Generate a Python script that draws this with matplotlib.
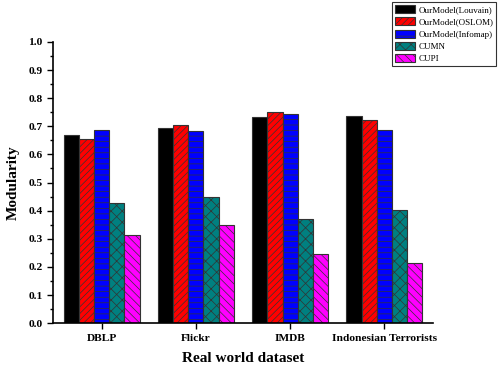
import matplotlib.pyplot as plt
import numpy as np
from matplotlib.ticker import MultipleLocator

plt.rcParams['font.family'] = ['Liberation Serif', 'DejaVu Serif']
plt.rcParams['hatch.linewidth'] = 0.5

datasets = ['DBLP', 'Flickr', 'IMDB', 'Indonesian Terrorists']
methods = ['OurModel(Louvain)', 'OurModel(OSLOM)', 'OurModel(Infomap)', 'CUMN', 'CUPI']
louvain = [0.670, 0.693, 0.734, 0.737]
oslom = [0.654, 0.705, 0.751, 0.722]
infomap = [0.686, 0.684, 0.743, 0.687]
cumn = [0.426, 0.449, 0.370, 0.402]
cupi = [0.313, 0.350, 0.246, 0.215]

series = [louvain, oslom, infomap, cumn, cupi]
colors = ['#000000', '#ff0000', '#0000ff', '#008080', '#ff00ff']
hatches = ['', '/////', '---', 'xxx', '\\\\\\\\']

fig = plt.figure(figsize=(5, 3.71), dpi=100)
ax = fig.add_axes([0.106, 0.129, 0.76, 0.758])

x = np.arange(1, len(datasets) + 1)
width = 0.16
for i, (vals, color, hatch, name) in enumerate(zip(series, colors, hatches, methods)):
    offset = (i - 2) * width
    ax.bar(x + offset, vals, width, color=color, hatch=hatch,
           edgecolor='#333333', linewidth=0.8, label=name)

ax.set_xlim(0.48, 4.52)
ax.set_ylim(0, 1.0)
ax.set_xticks(x)
ax.set_xticklabels(datasets, fontsize=8.2, fontweight='bold')
ax.yaxis.set_major_locator(MultipleLocator(0.1))
ax.yaxis.set_minor_locator(MultipleLocator(0.05))
ax.set_yticklabels([f'{v:.1f}' for v in ax.get_yticks()], fontsize=8.2, fontweight='bold')
ax.tick_params(axis='both', direction='out', length=4, width=1)
ax.tick_params(axis='y', which='minor', direction='out', length=2, width=1)
ax.tick_params(axis='x', pad=4)

ax.spines['top'].set_visible(False)
ax.spines['right'].set_visible(False)
ax.spines['left'].set_linewidth(1.2)
ax.spines['bottom'].set_linewidth(1.2)

ax.set_xlabel('Real world dataset', fontsize=11, fontweight='bold', labelpad=6)
ax.set_ylabel('Modularity', fontsize=11, fontweight='bold', labelpad=6)

leg = fig.legend(loc='upper left', bbox_to_anchor=(0.784, 0.994), fontsize=6.5,
                 frameon=True, fancybox=False, edgecolor='black',
                 handlelength=2.3, handleheight=1.0, labelspacing=0.35,
                 handletextpad=0.3, borderpad=0.3, borderaxespad=0)
leg.get_frame().set_linewidth(0.8)

fig.savefig('out.png', dpi=100)
